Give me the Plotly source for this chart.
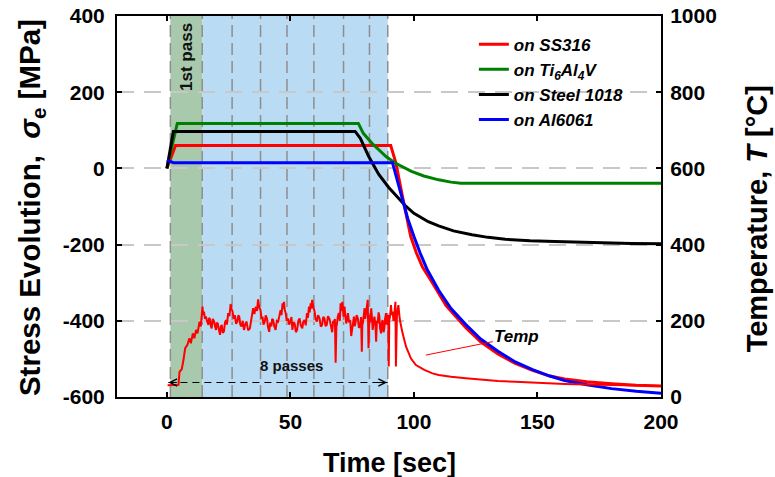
import plotly.graph_objects as go

# ---- stress evolution (MPa) on each substrate ----
t_ss316 = [0, 3.5, 90.6, 92.7, 95.7, 98.7, 101, 103.4, 107.5, 113, 121, 127, 134, 141, 148, 155, 161, 170, 180, 190, 200]
s_ss316 = [0, 60, 60, 14, -85, -179, -222, -258, -301, -360, -418, -455, -487, -512, -530, -545, -553, -560, -565, -569, -571]

t_ti64 = [0, 4.2, 77.5, 79.5, 83, 86, 88.7, 92.4, 96, 99, 104, 110, 115, 119, 125, 140, 160, 180, 200]
s_ti64 = [0, 118, 118, 92, 66, 48, 31, 14, 2, -8, -20, -30, -36, -39, -39, -39, -39, -39, -39]

t_st1018 = [0, 2.6, 76.2, 78.3, 81.7, 85.7, 89.8, 93.3, 96.8, 100, 105.8, 110, 116, 123.5, 130, 137, 147, 157, 167, 177, 188, 200]
s_st1018 = [0, 97, 97, 79, 31, -15, -50, -75, -100, -118, -140, -151, -164, -174, -181, -186, -190, -192, -194, -196, -197, -198]

t_al6061 = [0, 2.6, 91.3, 93, 95.3, 97.5, 100, 102.5, 105.4, 110, 115, 121, 127, 134, 141, 148, 155, 161, 170, 180, 190, 200]
s_al6061 = [22, 15, 15, -25, -83, -132, -179, -222, -266, -320, -368, -410, -448, -480, -508, -528, -545, -557, -568, -578, -585, -590]

# ---- measured temperature (deg C) ----
temp_t = [0.3, 2.5, 4.7, 5.1, 6.0, 6.7, 7.4, 8.3, 9.1, 9.7, 10.5, 11.1, 11.8, 12.4, 13.2, 13.7,
          14.4, 14.7, 15.0, 15.4, 15.8, 16.3, 16.8, 17.1, 17.5, 17.8, 18.1, 18.6, 19.1, 19.5,
          19.9, 20.2, 20.6, 21.0, 21.5, 21.8, 22.2, 22.6, 23.1, 23.5, 23.9, 24.3, 24.8, 25.3,
          25.8, 26.2, 26.6, 27.0, 27.5, 28.0, 28.5, 28.9, 29.3, 29.7, 30.2, 30.7, 31.2, 31.7,
          32.2, 32.9, 33.6, 34.2, 34.9, 35.4, 36.0, 36.5, 36.9, 37.4, 37.9, 38.3, 38.7, 39.1,
          39.6, 40.0, 40.5, 40.9, 41.4, 41.8, 42.3, 42.6, 43.0, 43.5, 44.0, 44.5, 45.0, 45.5,
          46.0, 46.4, 46.8, 47.1, 47.4, 47.7, 48.1, 48.5, 49.0, 49.5, 50.0, 50.4, 50.8, 51.2,
          51.7, 52.2, 52.7, 53.2, 53.7, 54.2, 54.8, 55.2, 55.7, 56.2, 56.7, 57.1, 57.5, 57.8,
          58.2, 58.5, 58.8, 59.3, 59.8, 60.2, 60.7, 61.2, 61.8, 62.3, 62.8, 63.3, 63.8, 64.2,
          64.7, 65.2, 65.8, 66.3, 66.9, 67.3, 67.6, 68.0, 68.3, 68.6, 68.8, 69.2, 69.6, 70.0,
          70.3, 70.6, 71.0, 71.5, 71.9, 72.2, 72.6, 73.0, 73.3, 73.7, 74.2, 74.6, 75.0, 75.3,
          75.7, 76.0, 76.3, 76.8, 77.3, 77.7, 78.2, 78.6, 78.9, 79.1, 79.3, 79.7, 80.0, 80.3,
          80.7, 81.0, 81.3, 81.6, 82.0, 82.3, 82.7, 83.0, 83.3, 83.7, 84.0, 84.4, 84.7, 85.0,
          85.3, 85.7, 86.0, 86.3, 86.7, 87.0, 87.3, 87.7, 88.0, 88.3, 88.7, 89.0, 89.3, 89.6,
          89.8, 90.0, 90.3, 90.7, 91.0, 91.4, 91.7, 92.0, 92.3, 92.5, 92.7, 92.9, 93.1, 93.4,
          93.7, 94.0, 94.3, 95.4, 96.8, 98.8, 100.8, 104.2, 107.5, 110, 115, 121,
          128, 134, 141, 148, 155, 161, 170, 180, 190, 200]
temp_c = [31, 31, 32, 66, 73, 97, 128, 137, 154, 141, 167, 154, 176, 167, 198, 185,
          237, 215, 224, 205, 211, 198, 189, 208, 202, 186, 180, 205, 198, 185,
          176, 195, 193, 178, 163, 184, 189, 168, 172, 195, 202, 190, 220, 212,
          244, 230, 224, 205, 215, 192, 198, 214, 211, 190, 185, 200, 176, 190,
          198, 175, 180, 205, 233, 218, 237, 226, 256, 235, 228, 205, 211, 190,
          198, 214, 206, 185, 171, 195, 185, 205, 202, 185, 176, 200, 198, 212,
          228, 215, 246, 232, 250, 228, 220, 200, 206, 190, 198, 210, 176, 196,
          193, 170, 176, 200, 206, 188, 180, 198, 202, 188, 220, 208, 237, 222,
          246, 232, 255, 236, 224, 205, 198, 215, 206, 185, 189, 210, 206, 186,
          189, 212, 205, 190, 170, 200, 195, 205, 90, 185, 190, 212, 220, 200,
          246, 225, 250, 211, 237, 215, 193, 208, 220, 196, 202, 160, 185, 205,
          211, 186, 193, 215, 206, 182, 185, 210, 119, 190, 193, 215, 233, 205,
          224, 240, 255, 128, 215, 196, 233, 210, 176, 198, 211, 190, 145, 200,
          193, 222, 211, 180, 167, 195, 202, 170, 180, 205, 220, 190, 198, 215,
          80, 200, 211, 241, 215, 224, 200, 211, 235, 250, 80, 200, 211, 230,
          241, 220, 202, 167, 132, 101, 84, 71, 62, 58, 53, 49,
          45, 42, 40, 37.6, 35.5, 34, 32.5, 31, 30, 29]

# pass boundaries (sec): first pass, then 7 more up to the end of deposition
pass_edges = [1.4, 14.3, 26.4, 37.9, 48.6, 59.5, 71.5, 82.0, 89.4]

x_ticks = [0, 50, 100, 150, 200]
stress_ticks = [-600, -400, -200, 0, 200, 400]
stress_labels = ["-600", "-400", "-200", "0", "200", "400"]
temp_ticks = [0, 200, 400, 600, 800, 1000]

FONT = "Liberation Sans, Arial, Helvetica, sans-serif"

fig = go.Figure()

# temperature history on the right axis
fig.add_trace(go.Scatter(x=temp_t, y=temp_c, yaxis="y2", mode="lines",
                         line=dict(color="#ff0000", width=2), showlegend=False,
                         hoverinfo="skip"))

series = [
    ("on SS316", t_ss316, s_ss316, "#ff0000"),
    ("on Ti<sub>6</sub>Al<sub>4</sub>V", t_ti64, s_ti64, "#008000"),
    ("on Steel 1018", t_st1018, s_st1018, "#000000"),
    ("on Al6061", t_al6061, s_al6061, "#0000ff"),
]
for name, tx, sy, col in series:
    fig.add_trace(go.Scatter(x=tx, y=sy, mode="lines", name=name,
                             line=dict(color=col, width=3)))

# "8 passes" dimension line
fig.add_trace(go.Scatter(x=[pass_edges[0] - 0.8, pass_edges[-1]], y=[38, 38], yaxis="y2",
                         mode="lines", line=dict(color="black", width=1.2, dash="7px,5px"),
                         showlegend=False, hoverinfo="skip"))

shapes = [
    dict(type="rect", xref="x", yref="paper", x0=pass_edges[0], x1=pass_edges[1], y0=0, y1=1,
         fillcolor="#a9c9ad", line_width=0, layer="between"),
    dict(type="rect", xref="x", yref="paper", x0=pass_edges[1], x1=pass_edges[-1], y0=0, y1=1,
         fillcolor="#b9dbf3", line_width=0, layer="between"),
]
for e in pass_edges:
    shapes.append(dict(type="line", xref="x", yref="paper", x0=e, x1=e, y0=0, y1=1,
                       line=dict(color="#8e8e8e", width=1.5, dash="12px,6px"), layer="between"))

annotations = [
    dict(text="1st pass", x=(pass_edges[0] + pass_edges[1]) / 2 - 0.2, y=292, xref="x", yref="y",
         xanchor="center", yanchor="middle", textangle=-90, showarrow=False,
         font=dict(family=FONT, size=17, color="#111", weight="bold")),
    dict(text="8 passes", x=50.4, y=84, xref="x", yref="y2", showarrow=False,
         font=dict(family=FONT, size=15, color="#111", weight="bold")),
    # arrow heads of the dimension line
    dict(x=pass_edges[0] - 0.8, y=38, xref="x", yref="y2", ax=10, ay=0, text="",
         showarrow=True, arrowhead=5, arrowsize=1.4, arrowwidth=1, arrowcolor="black"),
    dict(x=pass_edges[-1] - 0.3, y=38, xref="x", yref="y2", ax=-10, ay=0, text="",
         showarrow=True, arrowhead=5, arrowsize=1.4, arrowwidth=1, arrowcolor="black"),
    # curve label for the temperature history
    dict(text="Temp", x=104.8, y=110, xref="x", yref="y2", axref="x", ayref="y2",
         ax=141.6, ay=158, showarrow=True, arrowhead=0, arrowwidth=1, arrowcolor="#ff0000",
         standoff=0, font=dict(family=FONT, size=17, color="black", weight="bold", style="italic")),
    # axis titles
    dict(text="Time [sec]", xref="paper", yref="paper", x=0.5, y=-0.173,
         xanchor="center", yanchor="middle", showarrow=False,
         font=dict(family=FONT, size=27, color="black", weight="bold")),
    dict(text="Stress Evolution,\u00a0\u00a0<i>σ</i><sub>e</sub> [MPa]", xref="paper", yref="paper",
         x=-0.158, y=0.496, xanchor="center", yanchor="middle", textangle=-90, showarrow=False,
         font=dict(family=FONT, size=29.5, color="black", weight="bold")),
    dict(text="Temperature, <i>T</i> [°C]", xref="paper", yref="paper",
         x=1.177, y=0.467, xanchor="center", yanchor="middle", textangle=-90, showarrow=False,
         font=dict(family=FONT, size=29, color="black", weight="bold")),
]

tickfont = dict(family=FONT, size=21, color="black", weight="bold")
fig.update_layout(
    width=775, height=477,
    margin=dict(l=117, r=114, t=16, b=80),
    paper_bgcolor="white", plot_bgcolor="white",
    font=dict(family=FONT, color="black"),
    shapes=shapes, annotations=annotations,
    xaxis=dict(range=[-20.2, 200], tickvals=x_ticks, ticks="inside", ticklen=5, tickwidth=2,
               tickcolor="black", showline=True, linewidth=2, linecolor="black", mirror="ticks",
               showgrid=False, zeroline=False, tickfont=tickfont, ticklabelstandoff=5,
               automargin=False),
    yaxis=dict(range=[-600, 400], tickvals=stress_ticks, ticktext=stress_labels,
               ticks="inside", ticklen=5, tickwidth=2,
               tickcolor="black", showline=True, linewidth=2, linecolor="black",
               showgrid=True, gridcolor="#c8c8c8", gridwidth=2, griddash="17px,10px",
               zeroline=False, tickfont=tickfont, ticklabelstandoff=6, automargin=False),
    yaxis2=dict(range=[0, 1000], tickvals=temp_ticks, ticks="inside", ticklen=5, tickwidth=2,
                tickcolor="black", showline=True, linewidth=2, linecolor="black",
                overlaying="y", side="right", showgrid=False, zeroline=False,
                tickfont=tickfont, ticklabelstandoff=3, automargin=False),
    legend=dict(x=0.656, y=0.972, xanchor="left", yanchor="top", bgcolor="rgba(0,0,0,0)",
                font=dict(family=FONT, size=17, color="black", weight="bold", style="italic"),
                tracegroupgap=0, itemwidth=30),
)

fig.write_html("out.html")
